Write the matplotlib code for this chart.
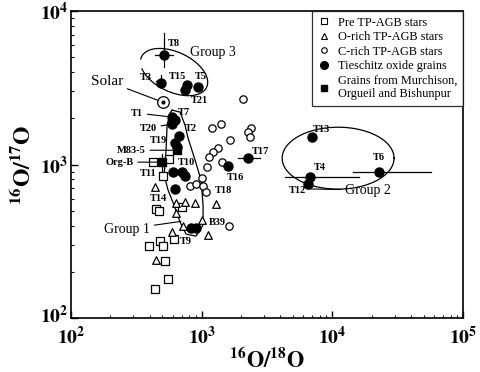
import numpy as np
import matplotlib
matplotlib.use("Agg")
import matplotlib.pyplot as plt
import matplotlib.transforms as mtrans
from matplotlib.lines import Line2D
from matplotlib.ticker import FixedLocator, LogLocator, NullFormatter

plt.rcParams['font.family'] = ['Liberation Serif', 'DejaVu Serif']
plt.rcParams['mathtext.fontset'] = 'stix'

# ---- data: 16O/18O (x) and 16O/17O (y) ----
pre_x = [424, 562, 506, 447, 471, 706, 480, 506, 614, 395, 524, 552, 440]
pre_y = [1038, 1087, 841, 513, 498, 528, 318, 294, 327, 294, 235, 179, 155]

orich_x = [440, 635, 745, 889, 1285, 635, 719, 1005, 593, 1117, 447]
orich_y = [713, 561, 570, 561, 553, 483, 397, 435, 363, 347, 239]

crich_x = [2070, 1200, 1405, 2380, 2260, 2340, 1650, 1333, 1220, 1137,
           1430, 1098, 1005, 813, 904, 1023, 1080, 1620]
crich_y = [2670, 1730, 1840, 1730, 1630, 1510, 1445, 1280, 1205, 1118,
           1038, 963, 817, 724, 747, 724, 662, 397]

ties_names = ['T8', 'T3', 'T15', 'T21', 'T5', 'T1', 'T7', 'T20', 'T2', 'T19a', 'T19b',
              'T10a', 'T10b', 'T10c', 'T14', 'T9a', 'T9b', 'T16', 'T17', 'T13', 'T4', 'T12', 'T6']
ties_x = [515, 488, 773, 745, 937, 593, 625, 593, 670, 625, 648,
          602, 706, 745, 625, 828, 904, 1590, 2260, 6980, 6740, 6510, 22750]
ties_y = [5160, 3400, 3300, 3060, 3200, 2040, 1950, 1840, 1535, 1380, 1300,
          893, 893, 841, 692, 385, 385, 978, 1100, 1510, 830, 747, 893]

grain_names = ['M83-5', 'Org-B']
grain_x = [648, 497]
grain_y = [1240, 1038]

solar_x, solar_y = 505, 2550

# error bars: (name, xlo, xhi, ylo, yhi)
err_names = ['T8', 'T3', 'T17', 'T4', 'T6', 'M83-5', 'Org-B']
err_xlo = [440, 488, 1900, 4340, 14380, 648, 497]
err_xhi = [602, 488, 2790, 15960, 56800, 648, 497]
err_ylo = [4310, 3400, 1100, 830, 893, 1240, 900]
err_yhi = [7200, 3830, 1100, 830, 893, 1240, 1180]

fig = plt.figure(figsize=(4.8, 3.72), dpi=100)
ax = fig.add_axes([0.148, 0.145, 0.817, 0.825])
ax.set_xscale('log')
ax.set_yscale('log')
ax.set_xlim(1e2, 1e5)
ax.set_ylim(1e2, 1e4)

pts = dict(zip(ties_names, zip(ties_x, ties_y)))
pts.update(dict(zip(grain_names, zip(grain_x, grain_y))))

for n, xl, xh, yl, yh in zip(err_names, err_xlo, err_xhi, err_ylo, err_yhi):
    px, py = pts[n]
    ax.plot([xl, xh], [py, py], color='k', lw=0.9, zorder=2)
    ax.plot([px, px], [yl, yh], color='k', lw=0.9, zorder=2)

ax.scatter(pre_x, pre_y, marker='s', s=26, facecolor='white', edgecolor='k', lw=0.9, zorder=3)
ax.scatter(orich_x, orich_y, marker='^', s=30, facecolor='white', edgecolor='k', lw=0.9, zorder=3)
ax.scatter(crich_x, crich_y, marker='o', s=28, facecolor='white', edgecolor='k', lw=0.9, zorder=3)
ax.scatter(ties_x, ties_y, marker='o', s=42, color='k', zorder=4)
ax.scatter(grain_x, grain_y, marker='s', s=38, color='k', zorder=4)
ax.scatter([solar_x], [solar_y], marker='o', s=70, facecolor='white', edgecolor='k', lw=0.9, zorder=4)
ax.scatter([solar_x], [solar_y], marker='o', s=4, color='k', zorder=5)


def ellipse(cx, cy, a, b, ang, t0=0, t1=2 * np.pi):
    # cx, cy in log10; a, b in x-decades; y decades are a bit shorter on screen
    t = np.linspace(t0, t1, 200)
    th = np.radians(ang)
    dx = a * np.cos(t) * np.cos(th) - b * np.sin(t) * np.sin(th)
    dy = a * np.cos(t) * np.sin(th) + b * np.sin(t) * np.cos(th)
    return 10 ** (cx + dx), 10 ** (cy + dy * 130.7 / 153.5)


# group outlines
ex, ey = ellipse(2.788, 3.603, 0.275, 0.153, -25, 3.7, 3.7 + 2 * np.pi - 0.45)
ax.plot(ex, ey, color='k', lw=0.9)
ex, ey = ellipse(4.043, 3.042, 0.428, 0.237, 0)
ax.plot(ex, ey, color='k', lw=0.9)

g1_lx = [2.773, 2.834, 2.872, 2.895, 2.949, 2.995, 3.010, 3.010, 2.956, 2.880, 2.834,
         2.788, 2.742, 2.712, 2.727, 2.735, 2.757, 2.773]
g1_ly = [3.355, 3.342, 3.257, 3.173, 3.029, 2.899, 2.736, 2.606, 2.534, 2.547, 2.625,
         2.736, 2.834, 2.932, 3.094, 3.257, 3.336, 3.355]
ax.plot(10 ** np.array(g1_lx), 10 ** np.array(g1_ly), color='k', lw=0.9)

# labels (axes fraction positions)
small = dict(fontsize=7.5, fontweight='bold')
labels = [
    ('T8', 0.247, 0.893, 'left', None), ('T3', 0.207, 0.785, 'right', 'T3'),
    ('T15', 0.250, 0.788, 'left', None), ('T5', 0.316, 0.788, 'left', None),
    ('T21', 0.306, 0.710, 'left', None), ('T1', 0.184, 0.668, 'right', 'T1'),
    ('T7', 0.273, 0.671, 'left', None), ('T20', 0.219, 0.619, 'right', 'T20'),
    ('T2', 0.291, 0.619, 'left', None), ('T19', 0.245, 0.580, 'right', 'T19a'),
    ('M83-5', 0.191, 0.547, 'right', 'M83-5'), ('Org-B', 0.160, 0.508, 'right', 'Org-B'),
    ('T10', 0.273, 0.508, 'left', None), ('T11', 0.219, 0.472, 'right', None),
    ('T14', 0.202, 0.391, 'left', None), ('T9', 0.278, 0.251, 'left', None),
    ('B39', 0.352, 0.313, 'left', None), ('T18', 0.367, 0.417, 'left', None),
    ('T16', 0.398, 0.459, 'left', None), ('T17', 0.462, 0.544, 'left', None),
    ('T13', 0.617, 0.616, 'left', None), ('T4', 0.620, 0.489, 'left', None),
    ('T12', 0.555, 0.417, 'left', None), ('T6', 0.770, 0.524, 'left', None),
]
for txt, fx, fy, ha, target in labels:
    if target is not None:
        ax.annotate(txt, xy=pts[target], xytext=(fx, fy), textcoords='axes fraction',
                    ha=ha, va='center', arrowprops=dict(arrowstyle='-', lw=0.8, shrinkA=1, shrinkB=2),
                    **small)
    else:
        ax.text(fx, fy, txt, transform=ax.transAxes, ha=ha, va='center', **small)

ax.annotate('Solar', xy=(solar_x, solar_y), xytext=(0.133, 0.772), textcoords='axes fraction',
            ha='right', va='center', fontsize=11,
            arrowprops=dict(arrowstyle='-', lw=0.8, shrinkA=1, shrinkB=4))
ax.annotate('Group 1', xy=(10 ** 2.84, 10 ** 2.63), xytext=(0.202, 0.290), textcoords='axes fraction',
            ha='right', va='center', fontsize=10, arrowprops=dict(arrowstyle='-', lw=0.8, shrinkA=1, shrinkB=0))
ax.text(0.304, 0.866, 'Group 3', transform=ax.transAxes, ha='left', va='center', fontsize=10)
ax.annotate('Group 2', xy=(0.602, 0.421), xycoords='axes fraction', xytext=(0.699, 0.417),
            textcoords='axes fraction', ha='left', va='center', fontsize=10,
            arrowprops=dict(arrowstyle='-', lw=0.8, shrinkA=1, shrinkB=0))

# legend
handles = [
    Line2D([], [], ls='none', marker='s', ms=4, mfc='white', mec='k', mew=0.8),
    Line2D([], [], ls='none', marker='^', ms=4, mfc='white', mec='k', mew=0.8),
    Line2D([], [], ls='none', marker='o', ms=4, mfc='white', mec='k', mew=0.8),
    Line2D([], [], ls='none', marker='o', ms=5.5, color='k'),
    Line2D([], [], ls='none', marker='s', ms=5, color='k'),
]
names = ['Pre TP-AGB stars', 'O-rich TP-AGB stars', 'C-rich TP-AGB stars',
         'Tieschitz oxide grains', 'Grains from Murchison,\nOrgueil and Bishunpur']
leg = ax.legend(handles, names, loc='upper right', frameon=True, fancybox=False,
                prop=dict(family='Liberation Serif', size=8.8),
                borderaxespad=0, handletextpad=0.7, handlelength=1.0, labelspacing=0.2,
                borderpad=0.45, edgecolor='k')
leg.get_frame().set_linewidth(0.9)

# axes styling
for s in ax.spines.values():
    s.set_linewidth(1.2)
ax.tick_params(which='both', direction='in', top=False, right=False)
ax.tick_params(which='major', length=5, width=1.0)
ax.tick_params(which='minor', length=2.5, width=0.8)
ax.xaxis.set_major_locator(FixedLocator([1e2, 1e3, 1e4, 1e5]))
ax.yaxis.set_major_locator(FixedLocator([1e2, 1e3, 1e4]))
ax.xaxis.set_minor_locator(LogLocator(base=10, subs=np.arange(2, 10)))
ax.yaxis.set_minor_locator(LogLocator(base=10, subs=np.arange(2, 10)))
ax.xaxis.set_minor_formatter(NullFormatter())
ax.yaxis.set_minor_formatter(NullFormatter())
ax.set_xticklabels([r'$\mathbf{10^{2}}$', r'$\mathbf{10^{3}}$', r'$\mathbf{10^{4}}$', r'$\mathbf{10^{5}}$'],
                   fontsize=14)
ax.set_yticklabels([r'$\mathbf{10^{2}}$', r'$\mathbf{10^{3}}$', r'$\mathbf{10^{4}}$'], fontsize=14)
ax.tick_params(axis='x', pad=6)
ax.tick_params(axis='y', pad=2)
# lift only the bottom y label a little so it clears the x label at the corner
lab0 = ax.get_yticklabels()[0]
lab0.set_transform(lab0.get_transform() + mtrans.ScaledTranslation(0, 3 / 72, fig.dpi_scale_trans))

ax.set_xlabel(r'$\mathbf{^{16}O/^{18}O}$', fontsize=16, labelpad=0)
ax.set_ylabel(r'$\mathbf{^{16}O/^{17}O}$', fontsize=17, labelpad=3)

fig.savefig('out.png', dpi=100)
